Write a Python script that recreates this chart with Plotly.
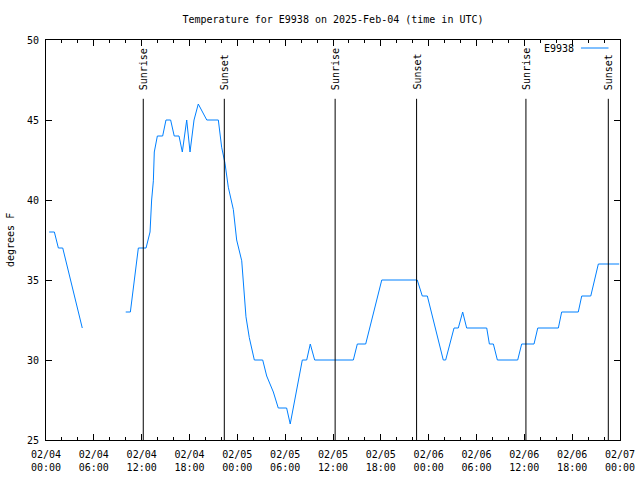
import plotly.graph_objects as go

station = "E9938"
title_text = "Temperature for E9938 on 2025-Feb-04 (time in UTC)"

times = [
    "2025-02-04 00:24", "2025-02-04 01:03", "2025-02-04 01:33", "2025-02-04 02:06",
    "2025-02-04 04:33", "2025-02-04 07:00",
    "2025-02-04 10:00", "2025-02-04 10:35", "2025-02-04 11:35", "2025-02-04 12:33",
    "2025-02-04 13:03", "2025-02-04 13:15", "2025-02-04 13:28", "2025-02-04 13:35",
    "2025-02-04 13:58", "2025-02-04 14:38", "2025-02-04 15:03", "2025-02-04 15:38",
    "2025-02-04 16:05", "2025-02-04 16:41", "2025-02-04 17:06", "2025-02-04 17:39",
    "2025-02-04 18:04", "2025-02-04 18:34", "2025-02-04 19:06", "2025-02-04 20:10",
    "2025-02-04 21:37", "2025-02-04 22:02", "2025-02-04 22:27", "2025-02-04 22:52",
    "2025-02-04 23:30", "2025-02-04 23:55", "2025-02-05 00:33", "2025-02-05 00:45",
    "2025-02-05 01:05", "2025-02-05 01:30", "2025-02-05 02:08", "2025-02-05 03:11",
    "2025-02-05 03:41", "2025-02-05 04:31", "2025-02-05 05:08", "2025-02-05 06:11",
    "2025-02-05 06:38", "2025-02-05 08:09", "2025-02-05 08:42", "2025-02-05 09:09",
    "2025-02-05 09:42", "2025-02-05 14:33", "2025-02-05 15:03", "2025-02-05 16:06",
    "2025-02-05 18:07", "2025-02-05 22:34", "2025-02-05 23:12", "2025-02-05 23:50",
    "2025-02-06 01:50", "2025-02-06 02:08", "2025-02-06 03:11", "2025-02-06 03:43",
    "2025-02-06 04:16", "2025-02-06 04:46", "2025-02-06 07:17", "2025-02-06 07:37",
    "2025-02-06 08:07", "2025-02-06 08:37", "2025-02-06 11:10", "2025-02-06 11:40",
    "2025-02-06 13:13", "2025-02-06 13:41", "2025-02-06 16:16", "2025-02-06 16:41",
    "2025-02-06 18:46", "2025-02-06 19:12", "2025-02-06 20:20", "2025-02-06 21:17",
    "2025-02-06 23:54",
]
temps = [
    38, 38, 37, 37,
    32, None,
    33, 33, 37, 37,
    38, 40, 41.2, 43,
    44, 44, 45, 45,
    44, 44, 43, 45,
    43, 45, 46, 45,
    45, 43.3, 42.3, 40.8,
    39.4, 37.5, 36.2, 35,
    32.7, 31.4, 30, 30,
    29, 28, 27, 27,
    26, 30, 30, 31,
    30, 30, 31, 31,
    35, 35, 34, 34,
    30, 30, 32, 32,
    33, 32, 32, 31,
    31, 30, 30, 31,
    31, 32, 32, 33,
    33, 34, 34, 36,
    36,
]

event_times = ["2025-02-04 12:12", "2025-02-04 22:22", "2025-02-05 12:16",
               "2025-02-05 22:29", "2025-02-06 12:12", "2025-02-06 22:32"]
event_labels = ["Sunrise", "Sunset", "Sunrise", "Sunset", "Sunrise", "Sunset"]

x_tickvals = ["2025-02-04 00:00", "2025-02-04 06:00", "2025-02-04 12:00", "2025-02-04 18:00",
              "2025-02-05 00:00", "2025-02-05 06:00", "2025-02-05 12:00", "2025-02-05 18:00",
              "2025-02-06 00:00", "2025-02-06 06:00", "2025-02-06 12:00", "2025-02-06 18:00",
              "2025-02-07 00:00"]
x_ticktext = ["02/04<br>00:00", "02/04<br>06:00", "02/04<br>12:00", "02/04<br>18:00",
              "02/05<br>00:00", "02/05<br>06:00", "02/05<br>12:00", "02/05<br>18:00",
              "02/06<br>00:00", "02/06<br>06:00", "02/06<br>12:00", "02/06<br>18:00",
              "02/07<br>00:00"]
y_tickvals = [25, 30, 35, 40, 45, 50]

FONT = "DejaVu Sans Mono"
LINE_COLOR = "#0080ff"

fig = go.Figure()
fig.add_trace(go.Scatter(x=times, y=temps, mode="lines",
                         line=dict(color=LINE_COLOR, width=1),
                         connectgaps=False, name=station, showlegend=False))

for t, lab in zip(event_times, event_labels):
    fig.add_shape(type="line", xref="x", yref="paper", x0=t, x1=t, y0=0, y1=0.853,
                  line=dict(color="black", width=1))
    fig.add_annotation(x=t, xref="x", y=0.87, yref="paper", text=lab, textangle=-90,
                       showarrow=False, xanchor="center", yanchor="bottom",
                       font=dict(family=FONT, size=10, color="black"))

# legend key (text then sample line, gnuplot style)
fig.add_annotation(x=0.924, xref="paper", y=0.98, yref="paper", text=station,
                   showarrow=False, xanchor="right", yanchor="middle",
                   font=dict(family=FONT, size=10, color="black"))
fig.add_shape(type="line", xref="paper", yref="paper", x0=0.932, x1=0.980, y0=0.98, y1=0.98,
              line=dict(color=LINE_COLOR, width=1))

# y-axis title as rotated text left of the tick labels
fig.add_annotation(x=-36 / 574, xref="paper", y=0.5, yref="paper", text="degrees F",
                   textangle=-90, showarrow=False, xanchor="center", yanchor="middle",
                   font=dict(family=FONT, size=10, color="black"))

fig.update_layout(
    width=640, height=480,
    margin=dict(l=46, r=20, t=40, b=40, autoexpand=False),
    paper_bgcolor="white", plot_bgcolor="white",
    font=dict(family=FONT, size=10, color="black"),
    title=dict(text=title_text, x=333 / 640, xanchor="center", y=1 - 19 / 480,
               yanchor="middle", font=dict(family=FONT, size=10, color="black")),
    showlegend=False,
)
fig.update_xaxes(
    type="date", range=["2025-02-04 00:00", "2025-02-07 00:00"],
    tickvals=x_tickvals, ticktext=x_ticktext, automargin=False,
    ticks="inside", ticklen=6, tickcolor="black", tickwidth=1, ticklabelstandoff=5,
    minor=dict(dtick=2 * 3600 * 1000, ticks="inside", ticklen=3, tickcolor="black", showgrid=False),
    showline=True, linecolor="black", linewidth=1, mirror="ticks",
    showgrid=False, zeroline=False,
    tickfont=dict(family=FONT, size=10, color="black"),
)
fig.update_yaxes(
    range=[25, 50], tickvals=y_tickvals, automargin=False,
    ticks="inside", ticklen=6, tickcolor="black", tickwidth=1, ticklabelstandoff=4,
    showline=True, linecolor="black", linewidth=1, mirror="ticks",
    showgrid=False, zeroline=False,
    tickfont=dict(family=FONT, size=10, color="black"),
)

fig.write_html("out.html", config={"displayModeBar": False},
               post_script="document.body.style.margin='0px';")
